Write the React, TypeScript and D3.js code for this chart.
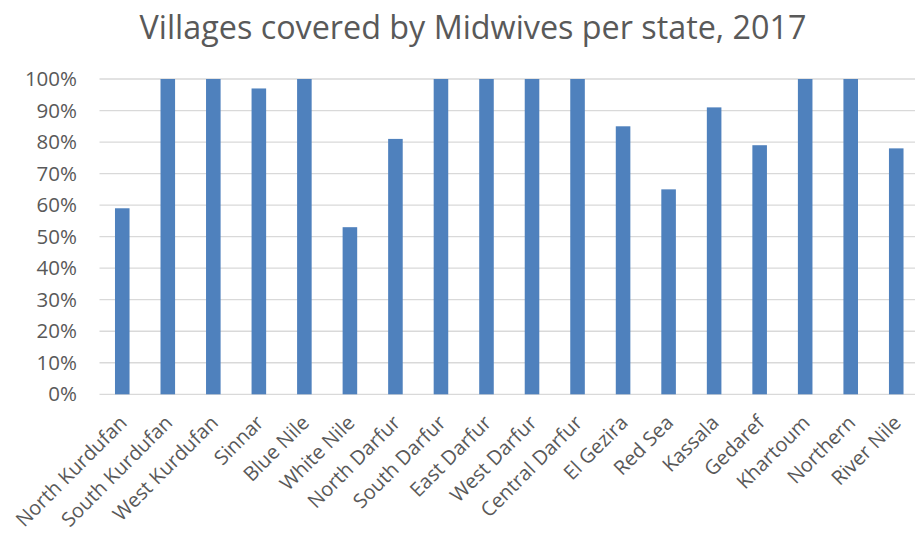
import React from "react";
import * as d3 from "d3";

const states: string[] = [
  "North Kurdufan", "South Kurdufan", "West Kurdufan", "Sinnar", "Blue Nile",
  "White Nile", "North Darfur", "South Darfur", "East Darfur", "West Darfur",
  "Central Darfur", "El Gezira", "Red Sea", "Kassala", "Gedaref",
  "Khartoum", "Northern", "River Nile",
];
const coverage: number[] = [
  0.59, 1.0, 1.0, 0.97, 1.0,
  0.53, 0.81, 1.0, 1.0, 1.0,
  1.0, 0.85, 0.65, 0.91, 0.79,
  1.0, 1.0, 0.78,
];
const yTicks: number[] = [0, 0.1, 0.2, 0.3, 0.4, 0.5, 0.6, 0.7, 0.8, 0.9, 1.0];
const title = "Villages covered by Midwives per state, 2017";

const W = 915;
const H = 535;
const plot = { left: 99.5, right: 919, top: 79, bottom: 394.3 };
const FONT = "'Open Sans', 'DejaVu Sans', sans-serif";

export default function App() {
  const x = d3
    .scaleBand<string>()
    .domain(states)
    .range([plot.left, plot.right])
    .paddingInner(0.68)
    .paddingOuter(0.34);
  const y = d3.scaleLinear().domain([0, 1]).range([plot.bottom, plot.top]);
  const fmt = d3.format(".0%");

  return (
    <svg
      width={W}
      height={H}
      style={{ position: "absolute", left: 0, top: 0, background: "#fff" }}
      fontFamily={FONT}
    >
      <text x={473} y={39} textAnchor="middle" fontSize={32.3} fill="#595959">
        {title}
      </text>
      {yTicks.map((t) => (
        <g key={t}>
          <line
            x1={plot.left}
            x2={W}
            y1={y(t)}
            y2={y(t)}
            stroke="#d9d9d9"
            strokeWidth={1.3}
          />
          <text
            x={77}
            y={y(t)}
            dy="0.35em"
            textAnchor="end"
            fontSize={20.5}
            fill="#595959"
          >
            {fmt(t)}
          </text>
        </g>
      ))}
      {states.map((s, i) => (
        <rect
          key={s}
          x={x(s)!}
          y={y(coverage[i])}
          width={x.bandwidth()}
          height={y(0) - y(coverage[i])}
          fill="#4f81bd"
        />
      ))}
      {states.map((s) => {
        const cx = x(s)! + x.bandwidth() / 2 + 6;
        const cy = 424;
        return (
          <text
            key={s}
            transform={`translate(${cx},${cy}) rotate(-45)`}
            textAnchor="end"
            fontSize={20}
            fill="#595959"
          >
            {s}
          </text>
        );
      })}
    </svg>
  );
}
